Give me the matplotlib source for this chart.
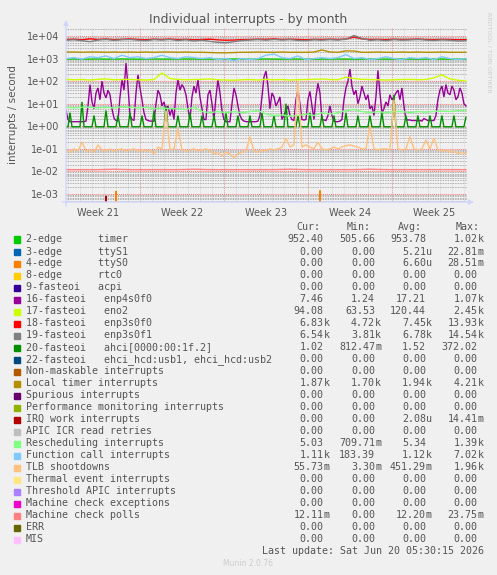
import numpy as np
import matplotlib
matplotlib.use("Agg")
import matplotlib.pyplot as plt
from matplotlib.patches import Rectangle
from matplotlib.ticker import LogLocator, NullFormatter

W, H = 497, 575

# ---------------- data ----------------
title = "Individual interrupts - by month"
ylabel = "interrupts / second"
week_labels = ["Week 21", "Week 22", "Week 23", "Week 24", "Week 25"]
week_centers = [2.67, 9.67, 16.67, 23.67, 30.67]      # days since graph start
week_starts = [6.17, 13.17, 20.17, 27.17]
day_lines = [0.17 + d for d in range(34)]
span_days = 33.42
ytick_vals = [1e-3, 1e-2, 1e-1, 1e0, 1e1, 1e2, 1e3, 1e4]
ytick_labels = ["1e-03", "1e-02", "1e-01", "1e+00", "1e+01", "1e+02", "1e+03", "1e+04"]

names = ["2-edge      timer", "3-edge      ttyS1", "4-edge      ttyS0",
         "8-edge      rtc0", "9-fasteoi   acpi", "16-fasteoi   enp4s0f0",
         "17-fasteoi   eno2", "18-fasteoi   enp3s0f0", "19-fasteoi   enp3s0f1",
         "20-fasteoi   ahci[0000:00:1f.2]",
         "22-fasteoi   ehci_hcd:usb1, ehci_hcd:usb2",
         "Non-maskable interrupts", "Local timer interrupts", "Spurious interrupts",
         "Performance monitoring interrupts", "IRQ work interrupts",
         "APIC ICR read retries", "Rescheduling interrupts",
         "Function call interrupts", "TLB shootdowns", "Thermal event interrupts",
         "Threshold APIC interrupts", "Machine check exceptions",
         "Machine check polls", "ERR", "MIS"]
colors = ["#00CC00", "#0066B3", "#FF8000", "#FFCC00", "#330099", "#990099",
          "#CCFF00", "#FF0000", "#808080", "#008F00", "#00487D", "#B35A00",
          "#B38F00", "#6B006B", "#8FB300", "#B30000", "#BEBEBE", "#80FF80",
          "#80C9FF", "#FFC080", "#FFE680", "#AA80FF", "#EE00CC", "#FF8080",
          "#666600", "#FFBFFF"]
cur = ["952.40", "0.00", "0.00", "0.00", "0.00", "7.46", "94.08", "6.83k", "6.54k",
       "1.02", "0.00", "0.00", "1.87k", "0.00", "0.00", "0.00", "0.00", "5.03",
       "1.11k", "55.73m", "0.00", "0.00", "0.00", "12.11m", "0.00", "0.00"]
mins = ["505.66", "0.00", "0.00", "0.00", "0.00", "1.24", "63.53", "4.72k", "3.81k",
        "812.47m", "0.00", "0.00", "1.70k", "0.00", "0.00", "0.00", "0.00", "709.71m",
        "183.39", "3.30m", "0.00", "0.00", "0.00", "0.00", "0.00", "0.00"]
avgs = ["953.78", "5.21u", "6.60u", "0.00", "0.00", "17.21", "120.44", "7.45k", "6.78k",
        "1.52", "0.00", "0.00", "1.94k", "0.00", "0.00", "2.08u", "0.00", "5.34",
        "1.12k", "451.29m", "0.00", "0.00", "0.00", "12.20m", "0.00", "0.00"]
maxs = ["1.02k", "22.81m", "28.51m", "0.00", "0.00", "1.07k", "2.45k", "13.93k", "14.54k",
        "372.02", "0.00", "0.00", "4.21k", "0.00", "0.00", "14.41m", "0.00", "1.39k",
        "7.02k", "1.96k", "0.00", "0.00", "0.00", "23.75m", "0.00", "0.00"]
last_update = "Last update: Sat Jun 20 05:30:15 2026"

# time series (values per second), evenly spaced over the month
timer = [950, 960, 940, 950, 955, 945, 950, 960, 950, 940, 950, 955, 950, 945, 950, 960,
         950, 945, 950, 940, 950, 955, 950, 945, 950, 960, 950, 940, 950, 955, 950, 945,
         950, 950, 955, 950, 940, 950, 955, 950, 945, 950, 960, 950, 945, 950, 955, 950,
         945, 950, 950]
enp4s0f0 = [5, 2, 1.6, 1.6, 1.6, 1.6, 1.6, 1.6, 1.6, 1.6,
            1.7, 8, 70, 12, 6, 30, 50, 15, 100, 30,
            18, 40, 25, 6, 2.3, 1.8, 1.7, 20, 115, 40,
            630, 60, 3, 2, 1.8, 30, 190, 50, 15, 4,
            2, 1.8, 1.7, 1.7, 1.7, 10, 40, 25, 8, 12,
            5, 8, 3, 6, 2, 30, 115, 40, 70, 50,
            25, 6, 2, 20, 60, 30, 115, 20, 6, 2,
            2, 25, 40, 10, 2, 20, 115, 30, 5, 2,
            1.6, 1.6, 1.6, 10, 50, 25, 8, 3, 2, 1.7,
            1.6, 1.6, 1.6, 1.6, 1.6, 1.6, 1.7, 3, 20, 150,
            280, 60, 6, 30, 20, 8, 12, 20, 2, 3,
            5, 8, 3, 2, 1.8, 15, 40, 10, 2, 1.9,
            2, 15, 35, 8, 2, 20, 80, 30, 2, 1.9,
            1.8, 3, 8, 3, 1.7, 1.6, 1.6, 1.7, 2, 15,
            50, 100, 340, 60, 25, 40, 10, 20, 60, 30,
            15, 25, 6, 8, 3, 20, 300, 30, 4, 6,
            12, 8, 25, 15, 20, 30, 40, 15, 50, 8,
            2, 1.9, 1.9, 1.8, 1.8, 1.8, 1.8, 1.8, 1.7, 2.2,
            2, 1.8, 1.8, 1.8, 1.8, 3, 15, 40, 60, 20,
            70, 30, 25, 60, 40, 15, 20, 50, 30, 10, 8]
eno2 = [120, 115, 118, 112, 120, 125, 115, 118, 120, 115,
        112, 118, 230, 130, 120, 115, 118, 120, 125, 115,
        112, 110, 115, 118, 112, 120, 115, 118, 112, 115,
        118, 120, 125, 118, 115, 150, 130, 120, 118, 115,
        112, 115, 118, 120, 115, 118, 140, 190, 125, 110, 100]
enp3s0f0 = [7000, 7200, 6800, 7500, 7000, 7300, 6900, 7100, 7400, 7000,
            6800, 7200, 7000, 7300, 6900, 7100, 6800, 7000, 7200, 6700,
            6500, 6600, 6900, 7000, 7200, 7100, 7400, 7000, 7200, 7000,
            6800, 7100, 7000, 7200, 7000, 7300, 9000, 7500, 7000, 7100,
            6900, 7200, 7000, 7100, 7300, 7000, 6900, 7100, 7000, 6800, 6900]
enp3s0f1 = [6500, 6800, 6200, 5600, 6600, 7000, 6400, 6800, 7000, 6500,
            6200, 6900, 6600, 7000, 6300, 6800, 6000, 6500, 5800, 5200,
            5000, 5600, 6300, 6600, 6900, 6500, 7000, 6600, 6900, 6400,
            6200, 6800, 6500, 6900, 6600, 7200, 10500, 7800, 6400, 6800,
            6200, 6900, 6500, 6700, 7000, 6600, 6300, 6700, 6500, 6000, 6200]
ahci = [0.95, 0.95, 4, 0.95, 0.95, 0.95,
        0.95, 0.95, 12, 0.95, 0.95, 0.95,
        0.95, 0.95, 3, 0.95, 0.95, 0.95,
        0.95, 0.95, 5, 0.95, 0.95, 0.95,
        0.95, 0.95, 3, 0.95, 0.95, 0.95,
        0.95, 0.95, 4, 0.95, 0.95, 0.95,
        0.95, 0.95, 3, 0.95, 0.95, 0.95,
        0.95, 0.95, 5, 0.95, 0.95, 0.95,
        0.95, 0.95, 8, 0.95, 0.95, 0.95,
        0.95, 0.95, 3, 0.95, 0.95, 0.95,
        0.95, 0.95, 4, 0.95, 0.95, 0.95,
        0.95, 0.95, 3, 0.95, 0.95, 0.95,
        0.95, 0.95, 3, 0.95, 0.95, 0.95,
        0.95, 0.95, 4, 0.95, 0.95, 0.95,
        0.95, 0.95, 3, 0.95, 0.95, 0.95,
        0.95, 0.95, 3, 0.95, 0.95, 0.95,
        0.95, 0.95, 4, 0.95, 0.95, 0.95,
        0.95, 0.95, 3, 0.95, 0.95, 0.95,
        0.95, 0.95, 10, 0.95, 0.95, 0.95,
        0.95, 0.95, 3, 0.95, 0.95, 0.95,
        0.95, 0.95, 4, 0.95, 0.95, 0.95,
        0.95, 0.95, 3, 0.95, 0.95, 0.95,
        0.95, 0.95, 3, 0.95, 0.95, 0.95,
        0.95, 0.95, 4, 0.95, 0.95, 0.95,
        0.95, 0.95, 3, 0.95, 0.95, 0.95,
        0.95, 0.95, 3, 0.95, 0.95, 0.95,
        0.95, 0.95, 4, 0.95, 0.95, 0.95,
        0.95, 0.95, 25, 0.95, 0.95, 0.95,
        0.95, 0.95, 3, 0.95, 0.95, 0.95,
        0.95, 0.95, 3, 0.95, 0.95, 0.95,
        0.95, 0.95, 3, 0.95, 0.95, 0.95,
        0.95, 0.95, 3, 0.95, 0.95, 0.95,
        0.95, 0.95, 3, 0.95, 0.95, 0.95,
        0.95, 0.95, 2.5]
local_timer = [1950, 1950, 1900, 1950, 1950, 1900, 1950, 1900, 1950, 1900,
               1950, 1900, 1950, 1950, 1900, 1950, 1900, 1900, 1850, 1800,
               1800, 1850, 1900, 1900, 1950, 1900, 1900, 1950, 1900, 1900,
               1900, 1950, 2400, 1950, 1900, 2200, 2150, 1900, 1900, 1950,
               1900, 1900, 1950, 1900, 1950, 1900, 1900, 1950, 1900, 1900, 1900]
resched = [7, 6.5, 7, 7, 6.5, 7, 6.5, 7.5, 7, 6.5,
           7, 6, 6.5, 6, 6, 5.5, 7, 4.5, 4, 4.5,
           4, 4.5, 4, 4.5, 5, 3.5, 3, 3.2, 2.8, 3,
           3.5, 3, 4, 3.5, 4, 5, 5.5, 4.5, 4, 4.5,
           4, 4.5, 4.5, 4, 4.5, 4.2, 4.5, 4.8, 4.5, 5, 5]
func_call = [1000, 1100, 950, 1200, 1100, 1300, 1000, 1400, 1100, 1200,
             1000, 1100, 1400, 1100, 1000, 1200, 1100, 1000, 1100, 900,
             1000, 800, 1000, 900, 1000, 1400, 1600, 1100, 1000, 1300,
             900, 1000, 1100, 1000, 1100, 1500, 1000, 1100, 900, 1000,
             1200, 1000, 900, 1100, 1000, 1100, 900, 1200, 1000, 900, 1000]
tlb = [0.09, 0.07, 0.1, 0.08, 0.2, 0.08, 0.09, 0.07, 0.15, 0.09, 0.08, 0.1, 0.08, 0.09,
       0.1, 0.08, 0.09, 0.1, 0.08, 0.09, 0.08, 0.09, 0.06, 0.12, 0.1, 5, 0.09, 0.1, 0.8,
       0.09, 0.08, 0.09, 0.1, 0.08, 0.09, 0.1, 0.08, 0.06, 0.07, 0.05, 0.07, 0.06, 0.04,
       0.06, 0.07, 0.08, 0.35, 0.08, 0.07, 0.09, 0.08, 0.1, 0.09, 0.1, 0.12, 0.3, 0.12,
       0.15, 100, 0.12, 0.15, 0.12, 0.1, 0.2, 0.1, 0.09, 0.1, 0.12, 0.1, 0.12, 0.14,
       0.15, 0.13, 0.12, 0.1, 0.1, 1.1, 0.1, 0.09, 0.1, 0.1, 0.09, 15, 0.1, 0.09, 0.1,
       0.35, 0.1, 0.09, 0.1, 0.25, 0.1, 0.3, 0.09, 0.08, 0.09, 0.07, 0.08, 0.06, 0.07,
       0.06]
mc_polls = [0.012, 0.012, 0.012, 0.0125, 0.012, 0.012, 0.012, 0.012, 0.0125, 0.012,
            0.012, 0.012, 0.012, 0.012, 0.0125, 0.012, 0.012, 0.012, 0.012, 0.0125,
            0.012, 0.012, 0.012, 0.012, 0.012, 0.012]
ttys0_t = [4.0, 4.17, 4.33, 21.0, 21.17, 21.33]
ttys0_v = [0, 1.3e-3, 0, 0, 1.4e-3, 0]
irqwork_t = [3.17, 3.33, 3.5]
irqwork_v = [0, 8e-4, 0]
data_end = 33.33

# ---------------- drawing ----------------
TXT = "#555555"
BG = "#F0F0F0"
fig = plt.figure(figsize=(W / 100, H / 100), dpi=100, facecolor=BG)
ax = fig.add_axes([66 / W, 1 - 202 / H, 401 / W, 174 / H])
ax.set_facecolor(BG)
ax.set_yscale("log", nonpositive="clip")
ax.set_xlim(0, span_days)
ax.set_ylim(10 ** -3.354, 10 ** 4.354)
for s in ax.spines.values():
    s.set_visible(False)

ax.set_yticks(ytick_vals)
ax.set_yticklabels(ytick_labels)
ax.yaxis.set_minor_locator(LogLocator(base=10, subs=np.arange(2, 10)))
ax.yaxis.set_minor_formatter(NullFormatter())
ax.set_xticks(week_centers)
ax.set_xticklabels(week_labels)
ax.tick_params(axis="both", which="both", length=0, labelsize=7, labelcolor=TXT)
ax.tick_params(axis="y", pad=5)
ax.tick_params(axis="x", pad=4)

minor_c = (0.6, 0.6, 0.6, 0.35)
major_c = (1.0, 0.45, 0.45, 0.55)
ax.grid(False)
ax.grid(True, which="minor", axis="y", color=minor_c, linestyle=(0, (1, 1)), lw=0.6)
ax.grid(True, which="major", axis="y", color=major_c, linestyle=(0, (1, 1)), lw=0.7)
for d in day_lines:
    if d <= span_days:
        ax.axvline(d, color=minor_c, linestyle=(0, (1, 1)), lw=0.6, zorder=0.5)
for d in week_starts:
    ax.axvline(d, color=major_c, linestyle=(0, (1, 1)), lw=0.7, zorder=0.6)

def tx(vals):
    return np.linspace(0, data_end, len(vals))

series = [
    (timer, 0), (enp4s0f0, 5), (eno2, 6), (enp3s0f0, 7), (enp3s0f1, 8),
    (ahci, 9), (local_timer, 12), (resched, 17), (func_call, 18), (tlb, 19),
    (mc_polls, 23),
]
lw = 1.0
ax.plot(irqwork_t, irqwork_v, color=colors[15], lw=lw, zorder=3)
ax.plot(ttys0_t, ttys0_v, color=colors[2], lw=lw, zorder=3)
for vals, ci in series:
    ax.plot(tx(vals), vals, color=colors[ci], lw=lw, zorder=2 + ci * 0.01,
            solid_joinstyle="miter")

ax.set_ylabel(ylabel, fontsize=7.5, color=TXT, labelpad=6)
fig.text(248 / W, 1 - 19 / H, title, ha="center", va="center", fontsize=9, color=TXT)
fig.text(489 / W, 1 - 52 / H, "RRDTOOL / TOBI OETIKER", rotation=270, ha="center",
         va="center", fontsize=4.5, color="#CCCCCC")

# axis arrows
AX_C = "#CFD6F8"
ax.annotate("", xy=(66, H - 20), xytext=(66, H - 206), xycoords="figure pixels",
            textcoords="figure pixels",
            arrowprops=dict(arrowstyle="-|>", color=AX_C, lw=1, mutation_scale=7,
                            shrinkA=0, shrinkB=0))
ax.annotate("", xy=(474, H - 202), xytext=(62, H - 202), xycoords="figure pixels",
            textcoords="figure pixels",
            arrowprops=dict(arrowstyle="-|>", color=AX_C, lw=1, mutation_scale=7,
                            shrinkA=0, shrinkB=0))

# legend
MONO = "DejaVu Sans Mono"
FS = 7.2
col_right = [323.5, 375, 426, 477.5]
head_right = [320, 371, 422, 479.5]
for hx, hd in zip(head_right, ["Cur:", "Min:", "Avg:", "Max:"]):
    fig.text(hx / W, 1 - 227.5 / H, hd, ha="right", va="center", family=MONO,
             fontsize=FS, color=TXT)
for i, nm in enumerate(names):
    y = 239.5 + 12 * i
    fig.patches.append(Rectangle((14 / W, 1 - (y + 3) / H), 6 / W, 6 / H,
                                 transform=fig.transFigure, color=colors[i]))
    fig.text(26 / W, 1 - y / H, nm, ha="left", va="center", family=MONO,
             fontsize=FS, color=TXT)
    for cx, col in zip(col_right, [cur, mins, avgs, maxs]):
        s = col[i]
        num, unit = (s[:-1], s[-1]) if s[-1] in "kmu" else (s, "")
        fig.text(cx / W, 1 - y / H, num, ha="right", va="center", family=MONO,
                 fontsize=FS, color=TXT)
        if unit:
            fig.text(cx / W, 1 - y / H, unit, ha="left", va="center", family=MONO,
                     fontsize=FS, color=TXT)
fig.text(483.5 / W, 1 - 551 / H, last_update, ha="right", va="center", family=MONO,
         fontsize=FS, color=TXT)
fig.text(248 / W, 1 - 564 / H, "Munin 2.0.76", ha="center", va="center",
         fontsize=5.5, color="#CCCCCC")

fig.savefig("out.png", dpi=100, facecolor=BG)
